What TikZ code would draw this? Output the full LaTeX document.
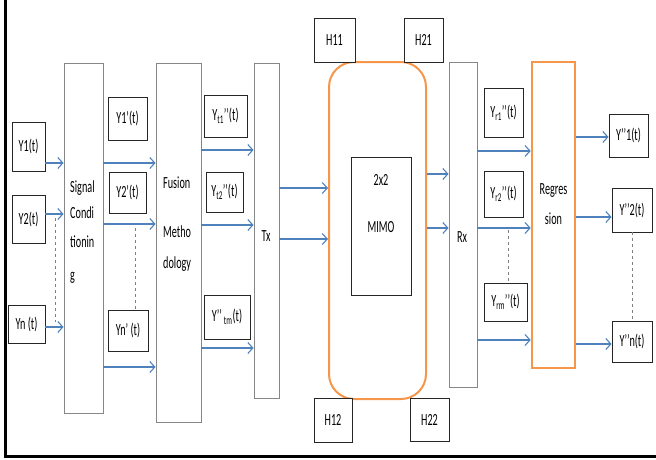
\documentclass[tikz,border=0pt]{standalone}
\usepackage{fontspec}
\setmainfont{Carlito}[FakeStretch=0.6]
\usetikzlibrary{arrows.meta,calc}
\definecolor{flowblue}{RGB}{79,129,189}
\definecolor{mimoorange}{RGB}{245,150,75}
\definecolor{stagegray}{RGB}{135,135,135}

\begin{document}
\begin{tikzpicture}[x=1pt,y=-1pt,
  font=\fontsize{17}{19}\selectfont,
  sig/.style={draw=black!85,line width=0.9pt,inner sep=0pt},
  stage/.style={draw=stagegray,line width=0.9pt,inner sep=0pt},
  flow/.style={draw=flowblue,line width=1.1pt,-{Straight Barb[length=5pt,width=11pt]}},
  gap/.style={draw=gray,dashed,line width=0.6pt},
  txt/.style={inner sep=0pt}]
\useasboundingbox (0,0) rectangle (656,459);
% frame
\draw[line width=3pt] (5.5,0) -- (5.5,456.5) -- (656,456.5);

% sensor inputs
\node[sig,minimum width=33,minimum height=49] (in1) at (28.5,146.5) {Y1(t)};
\node[sig,minimum width=33,minimum height=48] (in2) at (28.5,219) {Y2(t)};
\node[sig,minimum width=37,minimum height=38] (inn) at (26.5,324) {Yn (t)};

% signal conditioning
\node[stage,minimum width=39,minimum height=350] (sc) at (83.5,238) {};
\node[txt,anchor=north west,align=left] (scT) at (70,180.5)
  {Signal\\[7pt]Condi\\[10pt]tionin\\[14pt]g};

\node[sig,minimum width=39,minimum height=43] (p1) at (127.5,118.5) {Y1’(t)};
\node[sig,minimum width=37,minimum height=41] (p2) at (127.5,192.5) {Y2’(t)};
\node[sig,minimum width=40,minimum height=41] (pn) at (128,330.5) {Yn’ (t)};

% fusion methodology
\node[stage,minimum width=45,minimum height=359] (fus) at (178.5,242.5) {};
\node[txt,anchor=north west,align=left] (fusT) at (163,176.5)
  {Fusion\\[30pt]Metho\\[12pt]dology};

\node[sig,minimum width=43,minimum height=42] (q1) at (225.5,116) {Y\textsubscript{t1}’’(t)};
\node[sig,minimum width=37,minimum height=40] (q2) at (224.5,192) {Y\textsubscript{t2}’’(t)};
\node[sig,minimum width=46,minimum height=44] (qm) at (227,317) {Y’’\textsubscript{\,tm}(t)};

% transmitter
\node[stage,minimum width=25,minimum height=335] (tx) at (266.5,230.5) {};
\node[txt] (txT) at (266,236) {Tx};

% channel
\node[draw=mimoorange,line width=2pt,rounded corners=25pt,
      minimum width=97,minimum height=337] (mimo) at (377.5,230.5) {};
\node[sig,minimum width=60,minimum height=138] (core) at (381,226) {};
\node[txt,anchor=north,align=center] (coreT) at (381,174) {2x2\\[28pt]MIMO};

\node[sig,fill=white,minimum width=41,minimum height=44] (h11) at (334.5,40) {H11};
\node[sig,fill=white,minimum width=39,minimum height=44] (h21) at (423.5,40) {H21};
\node[sig,fill=white,minimum width=38,minimum height=44] (h12) at (333,420) {H12};
\node[sig,fill=white,minimum width=39,minimum height=43] (h22) at (429.5,419.5) {H22};

% receiver
\node[stage,minimum width=28,minimum height=325] (rx) at (463,224.5) {};
\node[txt] (rxT) at (462,237) {Rx};

\node[sig,minimum width=39,minimum height=49] (r1) at (503.5,112.5) {Y\textsubscript{r1}’’(t)};
\node[sig,minimum width=39,minimum height=46] (r2) at (503.5,194) {Y\textsubscript{r2}’’(t)};
\node[sig,minimum width=43,minimum height=38] (rm) at (505.5,302) {Y\textsubscript{rm}’’(t)};

% regression
\node[draw=mimoorange,line width=2.6pt,inner sep=0pt,
      minimum width=43,minimum height=306] (reg) at (553.5,215) {};
\node[txt,anchor=north,align=center] (regT) at (553.5,183.5) {Regres\\[11pt]sion};

\node[sig,minimum width=39,minimum height=43] (o1) at (628.5,135.5) {Y’’1(t)};
\node[sig,minimum width=40,minimum height=44] (o2) at (632,210) {Y’’2(t)};
\node[sig,minimum width=40,minimum height=41] (on) at (632,341.5) {Y’’n(t)};

% connectors
\draw[flow] (in1.east |- 0,163) -- (sc.west |- 0,163);
\draw[flow] (in2.east |- 0,214) -- (sc.west |- 0,214);
\draw[flow] (inn.east |- 0,327) -- (sc.west |- 0,327);
\foreach \y in {163,224,367}
  \draw[flow] (sc.east |- 0,\y) -- (fus.west |- 0,\y);
\foreach \y in {150,225,348}
  \draw[flow] (fus.east |- 0,\y) -- (tx.west |- 0,\y);
\foreach \y in {188,239}
  \draw[flow] (tx.east |- 0,\y) -- (mimo.west |- 0,\y);
\foreach \y in {174,228}
  \draw[flow] (mimo.east |- 0,\y) -- (rx.west |- 0,\y);
\foreach \y in {151,228,340}
  \draw[flow] (rx.east |- 0,\y) -- (reg.west |- 0,\y);
\draw[flow] (reg.east |- 0,137) -- (o1.west |- 0,137);
\draw[flow] (reg.east |- 0,217) -- (o2.west |- 0,217);
\draw[flow] (reg.east |- 0,344) -- (on.west |- 0,344);

% omitted channels
\draw[gap] (55,218) -- (55,322);
\draw[gap] (135,228) -- (pn.north -| 135,0);
\draw[gap] (508,230) -- (rm.north -| 508,0);
\draw[gap] (o2.south) -- (on.north);
\end{tikzpicture}
\end{document}
